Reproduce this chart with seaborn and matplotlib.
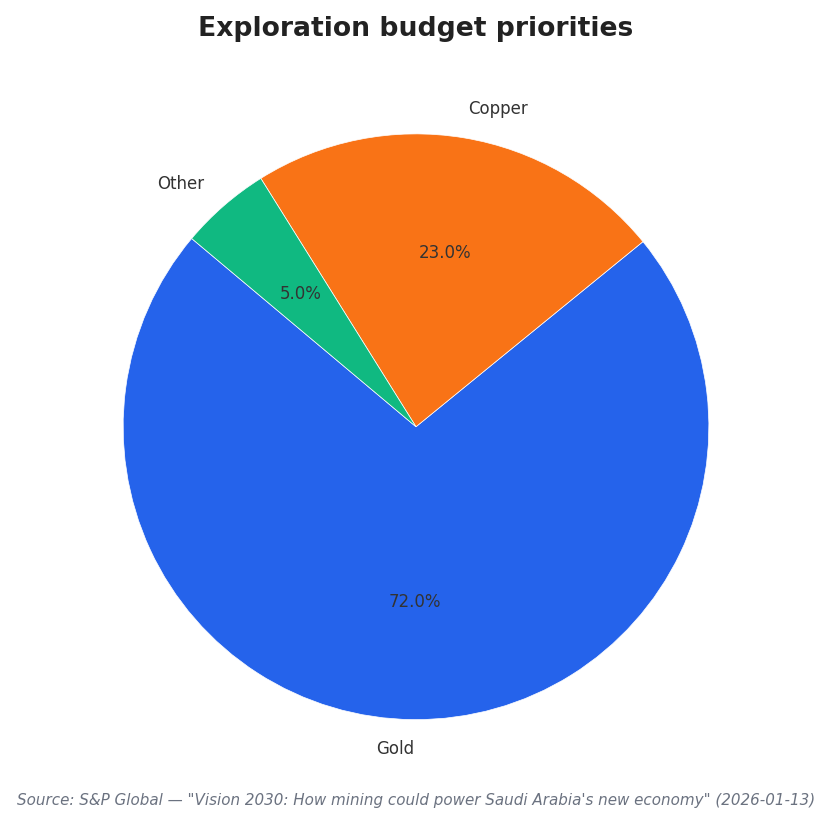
import seaborn as sns
import matplotlib.pyplot as plt

categories = ["Gold", "Copper", "Other"]
shares = [72.0, 23.0, 5.0]
colors = ["#2563EB", "#F97316", "#10B981"]

sns.set_theme(style="white")
plt.rcParams['font.family'] = 'sans-serif'
plt.rcParams['font.sans-serif'] = ['DejaVu Sans']

fig = plt.figure(figsize=(8.32, 8.24), dpi=100)
ax = fig.add_axes([0.060, 0.0376, 0.880, 0.889])

ax.pie(shares, labels=categories, colors=colors, autopct='%1.1f%%',
       startangle=140, counterclock=True,
       wedgeprops=dict(edgecolor='white', linewidth=0.5),
       textprops=dict(fontsize=12, color='#333333'))
ax.set_aspect('equal')

fig.suptitle("Exploration budget priorities", fontsize=19.2, fontweight='bold',
             color='#222222', y=0.98)
fig.text(0.5, 0.029,
         "Source: S&P Global \u2014 \"Vision 2030: How mining could power Saudi Arabia's new economy\" (2026-01-13)",
         ha='center', va='center', fontsize=10.9, style='italic', color='#6B7280')

fig.savefig("out.png", dpi=100)
